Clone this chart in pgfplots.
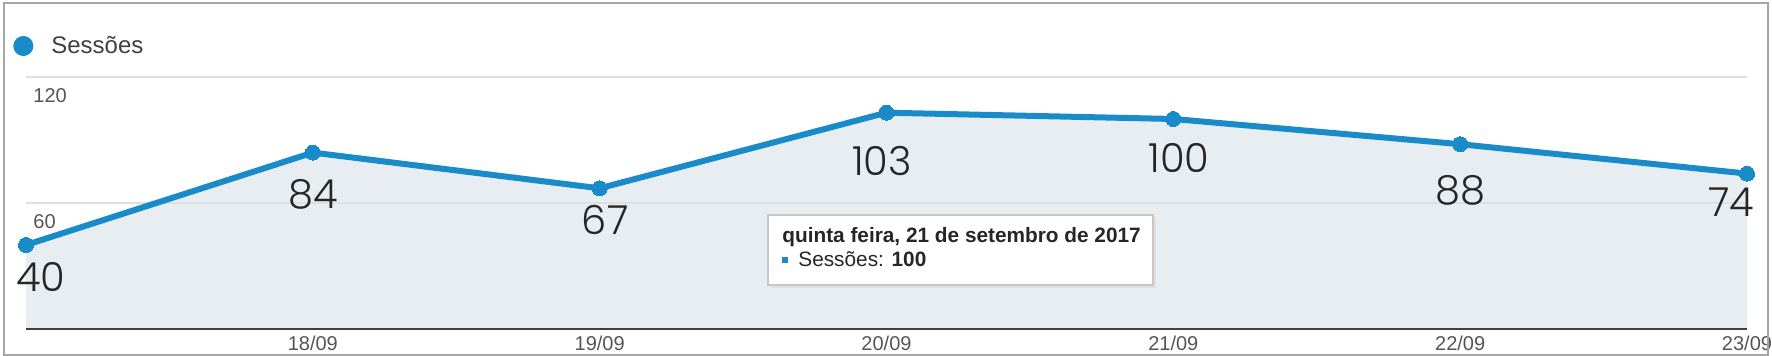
\documentclass[border=0pt]{standalone}
\usepackage{pgfplots}
\pgfplotsset{compat=1.18}
\usepackage{fontspec}
\setmainfont{Liberation Sans}
\newfontfamily\labfont{Poppins Light}
\definecolor{sess}{HTML}{1A8BC9}
\definecolor{areafill}{HTML}{E8EDF1}
\definecolor{gridc}{HTML}{DDE0E3}
\definecolor{tickc}{HTML}{555555}
\begin{document}
\begin{tikzpicture}
\begin{axis}[name=ax, set layers, scale only axis, width=860.5pt, height=126pt,
  xmin=0, xmax=6, ymin=0, ymax=120,
  /pgf/number format/assume math mode=true,
  xtick={0,...,6}, xticklabels={,18/09,19/09,20/09,21/09,22/09,23/09},
  ytick={60,120}, ymajorgrids, grid style={gridc, line width=0.6pt},
  axis x line*=bottom, axis y line*=left,
  y axis line style={draw=none},
  x axis line style={draw=black!75, line width=1pt},
  major tick length=0pt,
  tick label style={font=\fontsize{10}{12}\selectfont, text=tickc},
  yticklabel style={anchor=north west, inner sep=0pt, xshift=3.5pt, yshift=-5.5pt},
  xticklabel style={anchor=north},
  clip=false,
  legend style={at={(-0.0076,1.123)}, anchor=west, draw=none, fill=none,
    font=\fontsize{12}{14}\selectfont, text=black!75, inner sep=0pt,
    /tikz/every odd column/.append style={column sep=7pt}},
  legend image code/.code={\fill[sess] (3.5pt,0) circle (3.5pt);},
]
\addplot[fill=areafill, draw=none, forget plot, on layer=axis background]
  coordinates {(0,40)(1,84)(2,67)(3,103)(4,100)(5,88)(6,74)} \closedcycle;
\addplot[sess, line width=3pt, line join=round, mark=*, mark size=3.75pt,
  mark options={fill=sess, draw=sess, line width=0pt}]
  coordinates {(0,40)(1,84)(2,67)(3,103)(4,100)(5,88)(6,74)};
\addlegendentry{Sessões}
\begin{scope}[every node/.style={font=\labfont\fontsize{20}{24}\selectfont, text=black!85}]
\node at (axis cs:0.052,24.8) {40};
\node at (axis cs:1.0006,64.3) {84};
\node at (axis cs:2.019,51.9) {67};
\node at (axis cs:2.984,80.0) {103};
\node at (axis cs:4.02,81.4) {100};
\node at (axis cs:5.0,66.2) {88};
\node at (axis cs:5.944,60.5) {74};
\end{scope}
\end{axis}
\begin{scope}[shift={(ax.south west)}, x=0.5pt, y=0.5pt]
  \fill[black!12] (745,41) rectangle (1130,111);
  \draw[black!22, fill=white, line width=0.6pt] (742,44) rectangle (1127,114);
  \node[anchor=base west, font=\bfseries\fontsize{10.4}{12}\selectfont, text=black!85, inner sep=0pt] at (756,86) {quinta feira, 21 de setembro de 2017};
  \fill[sess] (756,66) rectangle (762,72);
  \node[anchor=base west, font=\fontsize{10.4}{12}\selectfont, text=black!85, inner sep=0pt] at (772,62) {Sessões: \textbf{100}};
  \draw[gray!70, line width=1.2pt] (-22,-26) rectangle (1742,326);
  \pgfresetboundingbox
  \useasboundingbox (-26,-27) rectangle (1746,329);
\end{scope}
\end{tikzpicture}
\end{document}
